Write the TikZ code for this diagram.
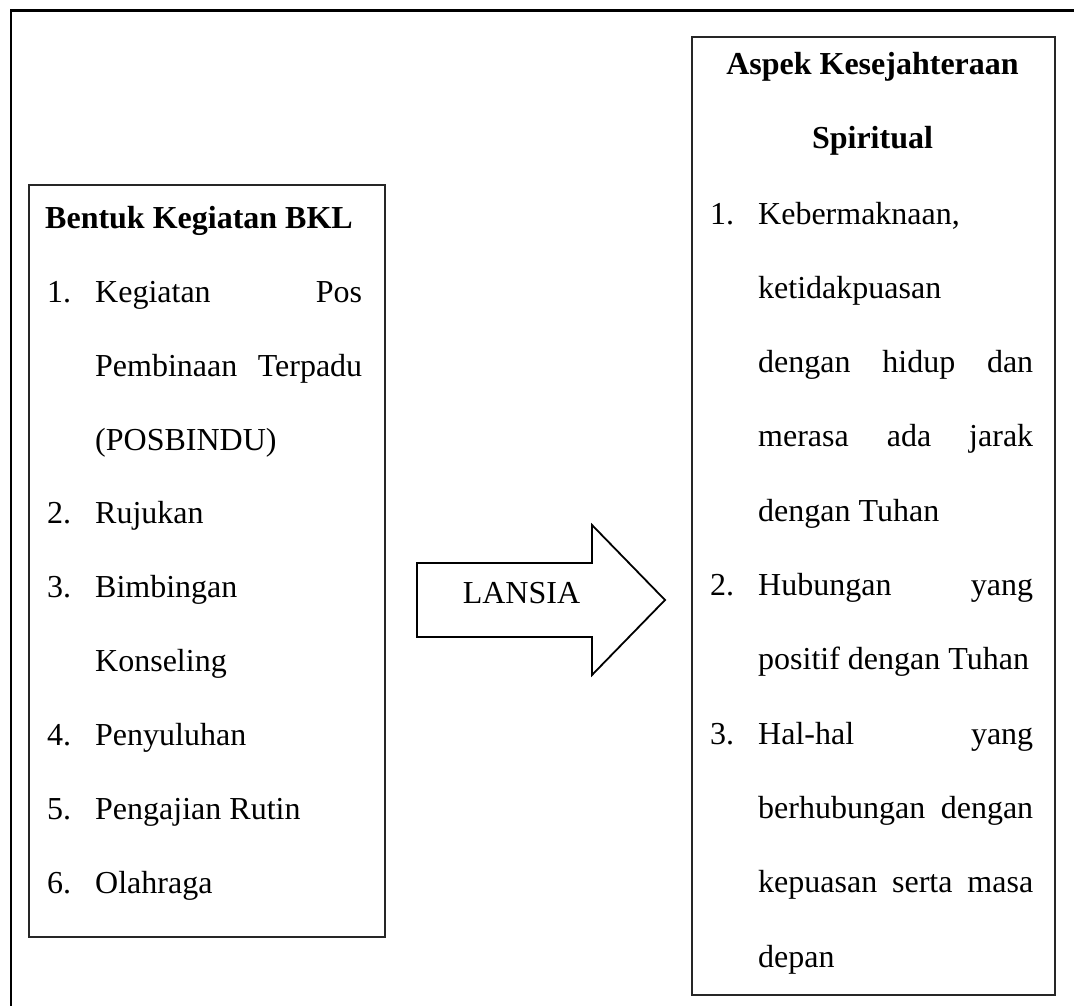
\documentclass[tikz,border=0pt]{standalone}
\usepackage{fontspec}
\setmainfont{Liberation Serif}
\begin{document}
\begin{tikzpicture}[x=1pt,y=-1pt,
  frameline/.style={line width=2.8pt},
  boxline/.style={draw=black!85, line width=1.8pt},
  arrowline/.style={draw=black, line width=1.8pt, line join=miter},
  tx/.style={anchor=base west, inner sep=0pt, font=\fontsize{32}{38}\selectfont},
  hd/.style={anchor=base, inner sep=0pt, font=\fontsize{32}{38}\selectfont\bfseries},
  hdl/.style={anchor=base west, inner sep=0pt, font=\fontsize{32}{38}\selectfont\bfseries}]
\useasboundingbox (0,0) rectangle (1074,1006);
% outer frame (only left and top edges visible)
\draw[frameline] (11,1010) -- (11,10.5) -- (1080,10.5);
% boxes
\node[boxline, anchor=north west, minimum width=356pt, minimum height=752pt, inner sep=0pt] (lbox) at (28,184) {};
\node[boxline, anchor=north west, minimum width=363pt, minimum height=958pt, inner sep=0pt] (rbox) at (691,36) {};
% arrow
\draw[arrowline] (417,563) -- (592,563) -- (592,525) -- (665,600) -- (592,675) -- (592,637) -- (417,637) -- cycle;
\node[anchor=base, inner sep=0pt, font=\fontsize{32}{38}\selectfont] (lansia) at (521.5,603) {LANSIA};
% left box text
\node[hdl] (l0) at (45,228) {Bentuk Kegiatan BKL};
\node[tx] (n1) at (47,302) {1.};
\node[tx] (l1) at (95,302) {\hbox to 267pt{Kegiatan\hfill Pos}};
\node[tx] (l2) at (95,376) {\hbox to 267pt{Pembinaan\hfill Terpadu}};
\node[tx] (l3) at (95,450) {(POSBINDU)};
\node[tx] (n2) at (47,523) {2.};
\node[tx] (l4) at (95,523) {Rujukan};
\node[tx] (n3) at (47,597) {3.};
\node[tx] (l5) at (95,597) {Bimbingan};
\node[tx] (l6) at (95,671) {Konseling};
\node[tx] (n4) at (47,745) {4.};
\node[tx] (l7) at (95,745) {Penyuluhan};
\node[tx] (n5) at (47,819) {5.};
\node[tx] (l8) at (95,819) {Pengajian Rutin};
\node[tx] (n6) at (47,893) {6.};
\node[tx] (l9) at (95,893) {Olahraga};
% right box text
\node[hd] (r0) at (872.5,75) {Aspek Kesejahteraan};
\node[hd] (r1) at (872.5,149) {Spiritual};
\node[tx] (m1) at (710,224) {1.};
\node[tx] (r2) at (758,224) {Kebermaknaan,};
\node[tx] (r3) at (758,298) {ketidakpuasan};
\node[tx] (r4) at (758,372) {\hbox to 275pt{dengan\hfill hidup\hfill dan}};
\node[tx] (r5) at (758,446) {\hbox to 275pt{merasa\hfill ada\hfill jarak}};
\node[tx] (r6) at (758,521) {dengan Tuhan};
\node[tx] (m2) at (710,595) {2.};
\node[tx] (r7) at (758,595) {\hbox to 275pt{Hubungan\hfill yang}};
\node[tx] (r8) at (758,669) {positif dengan Tuhan};
\node[tx] (m3) at (710,744) {3.};
\node[tx] (r9) at (758,744) {\hbox to 275pt{Hal-hal\hfill yang}};
\node[tx] (r10) at (758,818) {\hbox to 275pt{berhubungan\hfill dengan}};
\node[tx] (r11) at (758,892) {\hbox to 275pt{kepuasan\hfill serta\hfill masa}};
\node[tx] (r12) at (758,967) {depan};
\end{tikzpicture}
\end{document}
